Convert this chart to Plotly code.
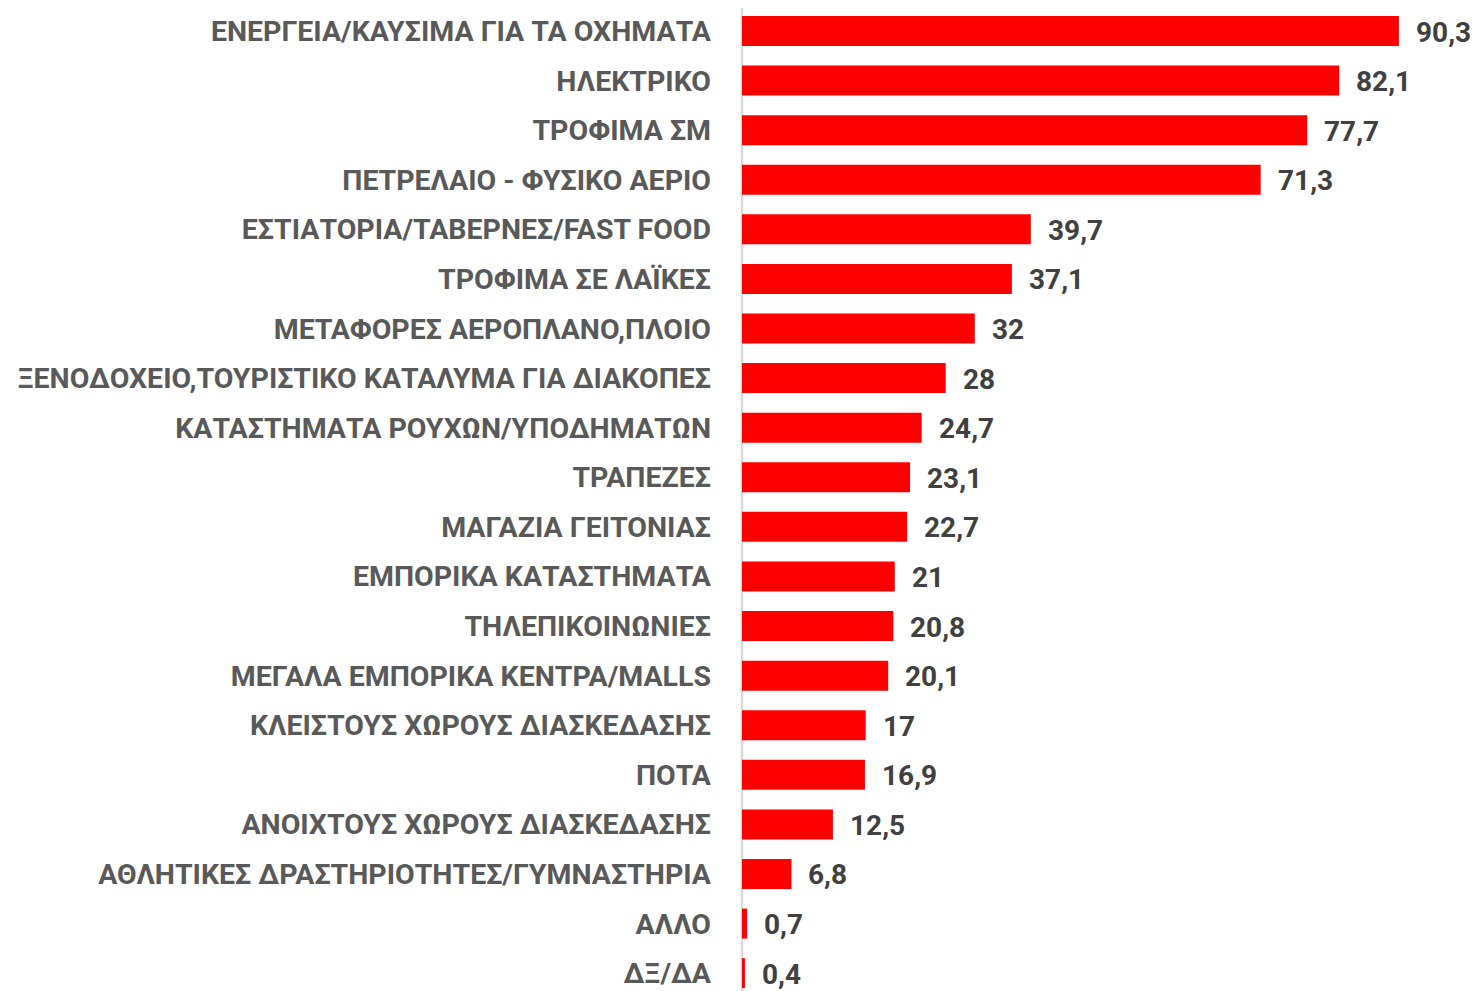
import plotly.graph_objects as go

categories = [
    "ΕΝΕΡΓΕΙΑ/ΚΑΥΣΙΜΑ ΓΙΑ ΤΑ ΟΧΗΜΑΤΑ",
    "ΗΛΕΚΤΡΙΚΟ",
    "ΤΡΟΦΙΜΑ ΣΜ",
    "ΠΕΤΡΕΛΑΙΟ - ΦΥΣΙΚΟ ΑΕΡΙΟ",
    "ΕΣΤΙΑΤΟΡΙΑ/ΤΑΒΕΡΝΕΣ/FAST FOOD",
    "ΤΡΟΦΙΜΑ ΣΕ ΛΑΪΚΕΣ",
    "ΜΕΤΑΦΟΡΕΣ ΑΕΡΟΠΛΑΝΟ,ΠΛΟΙΟ",
    "ΞΕΝΟΔΟΧΕΙΟ,ΤΟΥΡΙΣΤΙΚΟ ΚΑΤΑΛΥΜΑ ΓΙΑ ΔΙΑΚΟΠΕΣ",
    "ΚΑΤΑΣΤΗΜΑΤΑ ΡΟΥΧΩΝ/ΥΠΟΔΗΜΑΤΩΝ",
    "ΤΡΑΠΕΖΕΣ",
    "ΜΑΓΑΖΙΑ ΓΕΙΤΟΝΙΑΣ",
    "ΕΜΠΟΡΙΚΑ ΚΑΤΑΣΤΗΜΑΤΑ",
    "ΤΗΛΕΠΙΚΟΙΝΩΝΙΕΣ",
    "ΜΕΓΑΛΑ ΕΜΠΟΡΙΚΑ ΚΕΝΤΡΑ/MALLS",
    "ΚΛΕΙΣΤΟΥΣ ΧΩΡΟΥΣ ΔΙΑΣΚΕΔΑΣΗΣ",
    "ΠΟΤΑ",
    "ΑΝΟΙΧΤΟΥΣ ΧΩΡΟΥΣ ΔΙΑΣΚΕΔΑΣΗΣ",
    "ΑΘΛΗΤΙΚΕΣ ΔΡΑΣΤΗΡΙΟΤΗΤΕΣ/ΓΥΜΝΑΣΤΗΡΙΑ",
    "ΑΛΛΟ",
    "ΔΞ/ΔΑ",
]
values = [90.3, 82.1, 77.7, 71.3, 39.7, 37.1, 32, 28, 24.7, 23.1,
          22.7, 21, 20.8, 20.1, 17, 16.9, 12.5, 6.8, 0.7, 0.4]

labels = [f"{v:g}".replace(".", ",") for v in values]

FONT = "Roboto"

fig = go.Figure()
fig.add_trace(go.Bar(
    x=values, y=categories, orientation="h",
    marker=dict(color="#FF0000", line=dict(width=0)),
    hoverinfo="skip",
))

for c, v, t in zip(categories, values, labels):
    fig.add_annotation(
        x=v, y=c, text=f"<b>{t}</b>", showarrow=False,
        xanchor="left", yanchor="middle", xshift=15, yshift=-1,
        font=dict(family=FONT, size=28, color="#404040"),
    )

fig.update_layout(
    width=1476, height=991,
    margin=dict(l=742, r=0, t=8, b=0, pad=0),
    paper_bgcolor="white", plot_bgcolor="white",
    bargap=0.395,
    showlegend=False,
    xaxis=dict(range=[0, 100.9], visible=False, fixedrange=True),
    yaxis=dict(
        type="category",
        range=[19.36, -0.464],
        showgrid=False, zeroline=False,
        showline=False, fixedrange=True,
        ticks="", ticklabelstandoff=30,
        tickfont=dict(family=FONT, size=28.5, color="#595959", weight="bold"),
    ),
    shapes=[dict(type="line", xref="paper", yref="paper", x0=0, x1=0, y0=0, y1=1,
                 line=dict(color="#D9D9D9", width=2.5), layer="below")],
)

fig.write_html(
    "out.html",
    config={"displayModeBar": False},
    post_script=(
        "document.documentElement.style.margin='0';"
        "document.body.style.margin='0';"
        "document.documentElement.style.overflow='hidden';"
        "document.body.style.overflow='hidden';"
    ),
)
